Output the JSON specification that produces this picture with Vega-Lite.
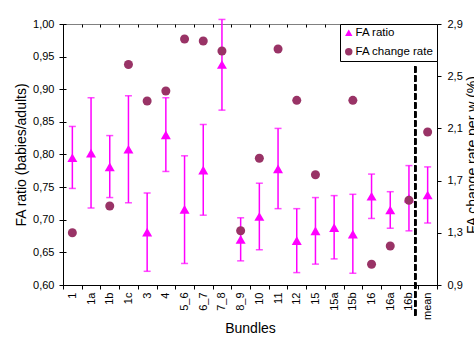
{
  "$schema": "https://vega.github.io/schema/vega-lite/v6.json",
  "width": 374,
  "height": 261,
  "autosize": {"type": "none"},
  "padding": {"left": 63, "top": 24, "right": 37, "bottom": 52},
  "background": "white",
  "config": {
    "font": "Liberation Sans",
    "view": {"stroke": "#808080", "strokeWidth": 1},
    "axis": {
      "domainColor": "black", "tickColor": "black", "labelColor": "black", "titleColor": "black",
      "labelFont": "Liberation Sans", "titleFont": "Liberation Sans",
      "labelFontSize": 11, "titleFontSize": 14, "titleFontWeight": "normal",
      "tickSize": 4, "domainWidth": 1, "tickWidth": 1, "labelOverlap": false, "labelFlush": false,
      "grid": true, "gridColor": "black", "gridOpacity": 1, "gridWidth": 1, "gridDash": [3, 2000]
    },
    "legend": {
      "orient": "top-right", "offset": 0, "strokeColor": "black", "fillColor": "white",
      "padding": 3, "labelFont": "Liberation Sans", "labelFontSize": 11.5, "labelColor": "black",
      "symbolSize": 55, "rowPadding": 6, "labelOffset": 1, "symbolStrokeWidth": 0
    }
  },
  "data": {"values": [
    {"cat": "1", "ratio": 0.795, "lo": 0.748, "hi": 0.843, "rate": 1.30},
    {"cat": "1a", "ratio": 0.802, "lo": 0.718, "hi": 0.887, "rate": null},
    {"cat": "1b", "ratio": 0.781, "lo": 0.734, "hi": 0.829, "rate": 1.505},
    {"cat": "1c", "ratio": 0.808, "lo": 0.726, "hi": 0.890, "rate": 2.59},
    {"cat": "3", "ratio": 0.681, "lo": 0.621, "hi": 0.741, "rate": 2.31},
    {"cat": "4", "ratio": 0.830, "lo": 0.774, "hi": 0.887, "rate": 2.387},
    {"cat": "5_6", "ratio": 0.716, "lo": 0.633, "hi": 0.798, "rate": 2.785},
    {"cat": "6_7", "ratio": 0.776, "lo": 0.707, "hi": 0.846, "rate": 2.77},
    {"cat": "7_8", "ratio": 0.938, "lo": 0.868, "hi": 1.007, "rate": 2.693},
    {"cat": "8_9", "ratio": 0.670, "lo": 0.637, "hi": 0.703, "rate": 1.316},
    {"cat": "10", "ratio": 0.705, "lo": 0.654, "hi": 0.756, "rate": 1.871},
    {"cat": "11", "ratio": 0.778, "lo": 0.717, "hi": 0.840, "rate": 2.708},
    {"cat": "12", "ratio": 0.668, "lo": 0.619, "hi": 0.717, "rate": 2.315},
    {"cat": "15", "ratio": 0.683, "lo": 0.632, "hi": 0.734, "rate": 1.745},
    {"cat": "15a", "ratio": 0.688, "lo": 0.640, "hi": 0.737, "rate": null},
    {"cat": "15b", "ratio": 0.678, "lo": 0.618, "hi": 0.739, "rate": 2.315},
    {"cat": "16", "ratio": 0.736, "lo": 0.702, "hi": 0.770, "rate": 1.059},
    {"cat": "16a", "ratio": 0.715, "lo": 0.687, "hi": 0.743, "rate": 1.199},
    {"cat": "16b", "ratio": 0.733, "lo": 0.683, "hi": 0.783, "rate": 1.549},
    {"cat": "mean", "ratio": 0.738, "lo": 0.695, "hi": 0.781, "rate": 2.072}
  ]},
  "encoding": {
    "x": {
      "field": "cat", "type": "nominal", "sort": null,
      "scale": {"domain": ["1","1a","1b","1c","3","4","5_6","6_7","7_8","8_9","10","11","12","15","15a","15b","16","16a","16b","mean"], "paddingInner": 0, "paddingOuter": 0},
      "axis": {"title": "Bundles", "labelAngle": -90, "tickBand": "extent", "labelPadding": 3, "titlePadding": 2}
    }
  },
  "layer": [
    {
      "layer": [
        {
          "mark": {"type": "rule", "color": "#FF00FF", "strokeWidth": 1.5},
          "encoding": {
            "y": {"field": "lo", "type": "quantitative", "title": "FA ratio (babies/adults)",
                  "scale": {"domain": [0.6, 1.0], "nice": false, "zero": false},
                  "axis": {"values": [0.6,0.65,0.7,0.75,0.8,0.85,0.9,0.95,1.0], "labelOverlap": false, "labelExpr": "replace(format(datum.value, '.2f'), '.', ',')", "labelPadding": 5, "titlePadding": 4}},
            "y2": {"field": "hi"}
          }
        },
        {
          "mark": {"type": "tick", "color": "#FF00FF", "size": 7, "thickness": 1.5},
          "encoding": {"y": {"field": "lo", "type": "quantitative", "title": "FA ratio (babies/adults)",
                  "axis": {"values": [0.6,0.65,0.7,0.75,0.8,0.85,0.9,0.95,1.0], "labelOverlap": false, "labelExpr": "replace(format(datum.value, '.2f'), '.', ',')", "labelPadding": 5, "titlePadding": 4}}}
        },
        {
          "mark": {"type": "tick", "color": "#FF00FF", "size": 7, "thickness": 1.5},
          "encoding": {"y": {"field": "hi", "type": "quantitative", "title": "FA ratio (babies/adults)",
                  "axis": {"values": [0.6,0.65,0.7,0.75,0.8,0.85,0.9,0.95,1.0], "labelOverlap": false, "labelExpr": "replace(format(datum.value, '.2f'), '.', ',')", "labelPadding": 5, "titlePadding": 4}}}
        },
        {
          "mark": {"type": "point", "filled": true, "size": 100, "opacity": 1},
          "encoding": {
            "y": {"field": "ratio", "type": "quantitative", "title": "FA ratio (babies/adults)",
                  "axis": {"values": [0.6,0.65,0.7,0.75,0.8,0.85,0.9,0.95,1.0], "labelOverlap": false, "labelExpr": "replace(format(datum.value, '.2f'), '.', ',')", "labelPadding": 5, "titlePadding": 4}},
            "color": {"datum": "FA ratio", "scale": {"domain": ["FA ratio", "FA change rate"], "range": ["#FF00FF", "#993366"]}, "legend": {"title": null}},
            "shape": {"datum": "FA ratio", "scale": {"domain": ["FA ratio", "FA change rate"], "range": ["triangle-up", "circle"]}, "legend": {"title": null}}
          }
        },
        {
          "mark": {"type": "rule", "color": "black", "strokeWidth": 2, "strokeDash": [6, 3]},
          "encoding": {
            "x": {"datum": "16b", "bandPosition": 0.83},
            "y": {"datum": 0.935, "type": "quantitative", "title": "FA ratio (babies/adults)",
                  "axis": {"values": [0.6,0.65,0.7,0.75,0.8,0.85,0.9,0.95,1.0], "labelOverlap": false, "labelExpr": "replace(format(datum.value, '.2f'), '.', ',')", "labelPadding": 5, "titlePadding": 4}},
            "y2": {"datum": 0.551}
          }
        }
      ]
    },
    {
      "transform": [{"filter": "isValid(datum.rate)"}],
      "mark": {"type": "point", "filled": true, "size": 81, "opacity": 1},
      "encoding": {
        "y": {"field": "rate", "type": "quantitative", "title": "FA change rate per w (%)",
              "scale": {"domain": [0.9, 2.9], "nice": false, "zero": false},
              "axis": {"orient": "right", "values": [0.9,1.3,1.7,2.1,2.5,2.9], "labelExpr": "replace(format(datum.value, '.1f'), '.', ',')", "labelPadding": 6, "titlePadding": 3, "titleAngle": 270, "titleBaseline": "top"}},
        "color": {"datum": "FA change rate"},
        "shape": {"datum": "FA change rate"}
      }
    }
  ],
  "resolve": {"scale": {"y": "independent"}}
}
